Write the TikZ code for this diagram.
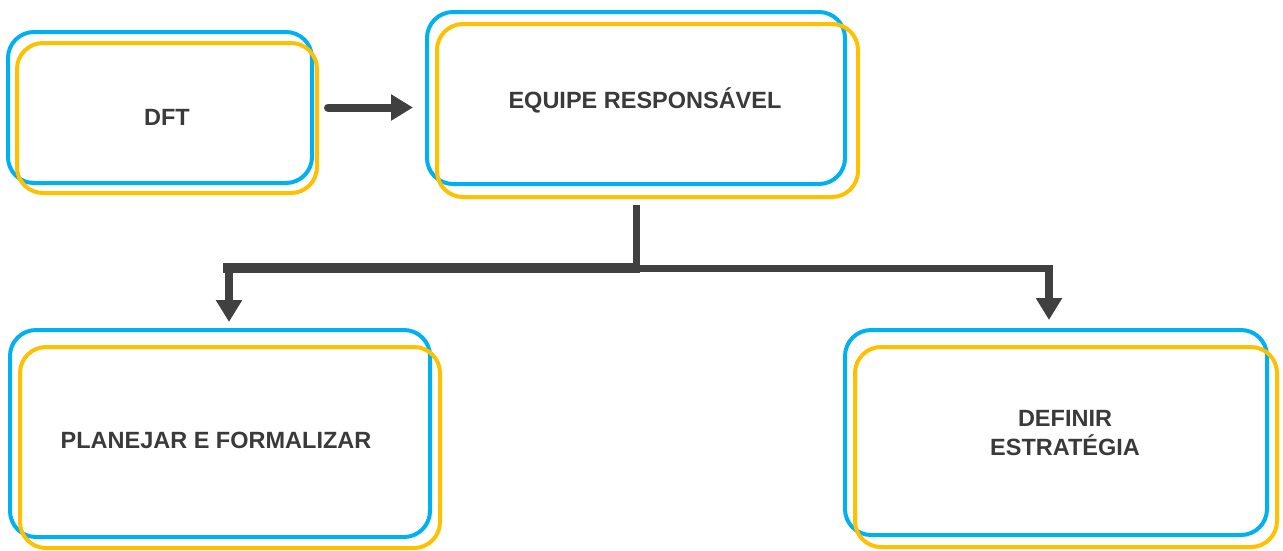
\documentclass[tikz,border=0pt]{standalone}
\usepackage{fontspec}
\setmainfont{Liberation Sans}
\usetikzlibrary{arrows.meta,calc}
\definecolor{frameblue}{HTML}{00B0F0}
\definecolor{frameyellow}{HTML}{FFC000}
\definecolor{ink}{HTML}{3A3A3A}
\definecolor{wire}{HTML}{404040}

\tikzset{
  blueframe/.style={draw=frameblue, line width=4pt, rounded corners=26pt, inner sep=0pt},
  yellowframe/.style={draw=frameyellow, line width=4pt, rounded corners=26pt, inner sep=0pt},
  lbl/.style={text=ink, font=\bfseries\fontsize{23.5}{29}\selectfont, align=center},
  wirebar/.style={draw=wire, line width=10pt},
  wireline/.style={draw=wire, line width=7pt},
  wirearrow/.style={draw=wire, line width=8pt, -{Triangle[length=22pt,width=25pt]}}
}

\begin{document}
\begin{tikzpicture}[x=1pt,y=-1pt]
    \useasboundingbox (0,0) rectangle (1283,550);

    % frames: blue below, yellow on top
    \node[blueframe, minimum width=304pt, minimum height=151pt] (dftB) at (160,107.5) {};
    \node[yellowframe, minimum width=300pt, minimum height=150pt] (dftY) at (167,118) {};
    \node[blueframe, minimum width=418pt, minimum height=172pt] (eqB) at (636,98) {};
    \node[yellowframe, minimum width=421pt, minimum height=173pt] (eqY) at (647.5,110.5) {};
    \node[blueframe, minimum width=420pt, minimum height=207pt] (plB) at (220,433.5) {};
    \node[yellowframe, minimum width=420pt, minimum height=201pt] (plY) at (230,447.5) {};
    \node[blueframe, minimum width=422pt, minimum height=205pt] (dfB) at (1056,432.5) {};
    \node[yellowframe, minimum width=422pt, minimum height=200pt] (dfY) at (1066,447) {};

    % labels
    \node[lbl] (dft) at (167,117) {DFT};
    \node[lbl] (eq) at (645,100) {EQUIPE RESPONSÁVEL};
    \node[lbl] (pl) at (216,440) {PLANEJAR E FORMALIZAR};
    \node[lbl] (df) at (1065,433) {DEFINIR\\ESTRATÉGIA};

    % connectors
    \coordinate (split) at (636,268);
    \coordinate (lefttip) at (229,322);
    \coordinate (righttip) at (1049,320);

    \draw[wirearrow, line cap=round] ($(dftB.east)+(14,0)$) -- ($(eqB.west |- dftB.east)+(-12,0)$);
    \draw[wireline] ($(eqB.south)+(0,19)$) -- ($(split)+(0,4)$);
    \draw[wirebar] ($(split)+(4,0)$) -- ($(lefttip |- split)+(-6,0)$);
    \draw[wireline] (split) -- ($(righttip |- split)+(3.5,0)$);
    \draw[wirearrow] (lefttip |- split) -- (lefttip);
    \draw[wirearrow] (righttip |- split) -- (righttip);
\end{tikzpicture}
\end{document}
